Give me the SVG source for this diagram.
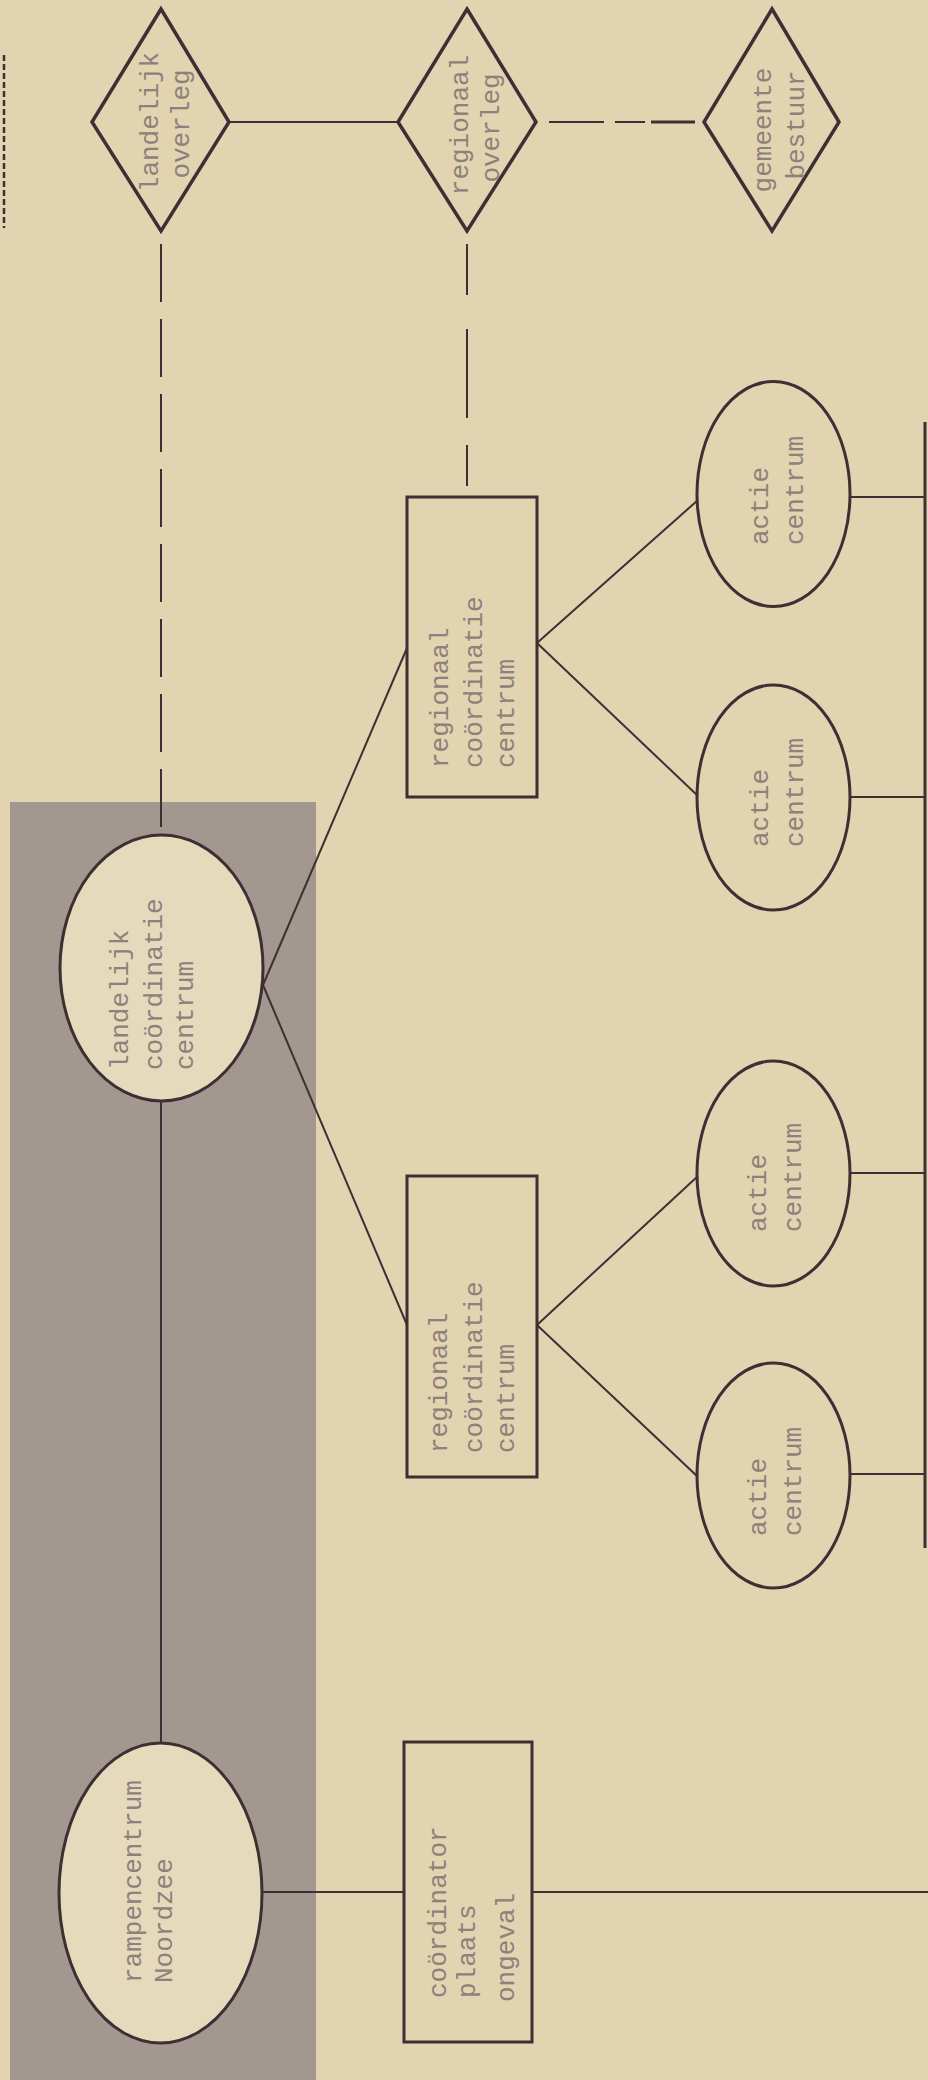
<svg xmlns="http://www.w3.org/2000/svg" width="928" height="2080" viewBox="0 0 928 2080">
<style>
.n{fill:#e6dabd;stroke:#3d3034;stroke-width:3}
.c{stroke:#3d3034;stroke-width:2;fill:none}
.d{stroke-dasharray:58 17}
.t{font-family:"Liberation Mono","DejaVu Sans Mono",monospace;font-size:26px;fill:#8c817b}
.m{text-anchor:middle}
</style>
<rect x="0" y="0" width="928" height="2080" fill="#e2d3b1"/>
<rect id="shade" x="10" y="802" width="306" height="1278" fill="#a2988f"/>

<g id="connectors">
  <line class="c" x1="4" y1="55" x2="4" y2="228" style="stroke-dasharray:6 3;stroke-width:2.5"/>
  <line class="c" x1="229" y1="122" x2="398" y2="122"/>
  <line class="c" x1="549" y1="122" x2="604" y2="122"/>
  <line class="c" x1="615" y1="122" x2="645" y2="122"/>
  <line class="c" x1="651" y1="122" x2="695" y2="122" style="stroke-width:3"/>
  <line class="c d" x1="161" y1="244" x2="161" y2="835"/>
  <line class="c" x1="467" y1="244" x2="467" y2="295"/>
  <line class="c" x1="467" y1="329" x2="467" y2="418"/>
  <line class="c" x1="467" y1="445" x2="467" y2="486"/>
  <line class="c" x1="263" y1="985" x2="407" y2="648"/>
  <line class="c" x1="263" y1="985" x2="407" y2="1325"/>
  <line class="c" x1="537" y1="643" x2="698" y2="500"/>
  <line class="c" x1="537" y1="643" x2="698" y2="796"/>
  <line class="c" x1="537" y1="1325" x2="698" y2="1176"/>
  <line class="c" x1="537" y1="1325" x2="698" y2="1477"/>
  <line class="c" x1="850" y1="497" x2="925" y2="497"/>
  <line class="c" x1="850" y1="797" x2="925" y2="797"/>
  <line class="c" x1="850" y1="1173" x2="925" y2="1173"/>
  <line class="c" x1="850" y1="1474" x2="925" y2="1474"/>
  <line class="c" x1="925" y1="422" x2="925" y2="1548" style="stroke-width:3"/>
  <line class="c" x1="161" y1="1100" x2="161" y2="1743"/>
  <line class="c" x1="262" y1="1892" x2="404" y2="1892"/>
  <line class="c" x1="532" y1="1892" x2="928" y2="1892"/>
</g>

<g id="landelijk-overleg">
  <polygon class="n" points="161,9 229,122 161,231 92,122" style="fill:none;stroke-width:3.5"/>
  <text class="t m" transform="translate(158,122) rotate(-90)">landelijk</text>
  <text class="t m" transform="translate(189,124) rotate(-90)">overleg</text>
</g>
<g id="regionaal-overleg">
  <polygon class="n" points="467,9 536,122 467,231 398,122" style="fill:none;stroke-width:3.5"/>
  <text class="t m" transform="translate(468,125) rotate(-90)">regionaal</text>
  <text class="t m" transform="translate(499,128) rotate(-90)">overleg</text>
</g>
<g id="gemeente-bestuur">
  <polygon class="n" points="772,9 839,122 772,231 704,122" style="fill:none;stroke-width:3.5"/>
  <text class="t m" transform="translate(771,130) rotate(-90)">gemeente</text>
  <text class="t m" transform="translate(804,125) rotate(-90)">bestuur</text>
</g>

<g id="landelijk-coordinatie-centrum">
  <ellipse class="n" cx="161.5" cy="968" rx="101.5" ry="133"/>
  <text class="t" transform="translate(128,1070) rotate(-90)">landelijk</text>
  <text class="t" transform="translate(162,1070) rotate(-90)">coördinatie</text>
  <text class="t" transform="translate(193,1070) rotate(-90)">centrum</text>
</g>

<g id="regionaal-coordinatie-centrum-1">
  <rect class="n" x="407" y="497" width="130" height="300" style="fill:none"/>
  <text class="t" transform="translate(448,768) rotate(-90)">regionaal</text>
  <text class="t" transform="translate(482,768) rotate(-90)">coördinatie</text>
  <text class="t" transform="translate(514,768) rotate(-90)">centrum</text>
</g>
<g id="regionaal-coordinatie-centrum-2">
  <rect class="n" x="407" y="1176" width="130" height="301" style="fill:none"/>
  <text class="t" transform="translate(447,1453) rotate(-90)">regionaal</text>
  <text class="t" transform="translate(482,1453) rotate(-90)">coördinatie</text>
  <text class="t" transform="translate(514,1453) rotate(-90)">centrum</text>
</g>

<g id="actie-centrum-1">
  <ellipse class="n" cx="773.5" cy="494" rx="76.5" ry="112.5" style="fill:none"/>
  <text class="t" transform="translate(768,545) rotate(-90)">actie</text>
  <text class="t" transform="translate(803,545) rotate(-90)">centrum</text>
</g>
<g id="actie-centrum-2">
  <ellipse class="n" cx="773.5" cy="797.5" rx="76.5" ry="112.5" style="fill:none"/>
  <text class="t" transform="translate(768,847) rotate(-90)">actie</text>
  <text class="t" transform="translate(803,847) rotate(-90)">centrum</text>
</g>
<g id="actie-centrum-3">
  <ellipse class="n" cx="773.5" cy="1173.5" rx="76.5" ry="112.5" style="fill:none"/>
  <text class="t" transform="translate(766,1232) rotate(-90)">actie</text>
  <text class="t" transform="translate(801,1232) rotate(-90)">centrum</text>
</g>
<g id="actie-centrum-4">
  <ellipse class="n" cx="773.5" cy="1475.5" rx="76.5" ry="112.5" style="fill:none"/>
  <text class="t" transform="translate(766,1536) rotate(-90)">actie</text>
  <text class="t" transform="translate(801,1536) rotate(-90)">centrum</text>
</g>

<g id="rampencentrum-noordzee">
  <ellipse class="n" cx="160.5" cy="1893" rx="101.5" ry="150"/>
  <text class="t" transform="translate(141,1983) rotate(-90)">rampencentrum</text>
  <text class="t" transform="translate(172,1983) rotate(-90)">Noordzee</text>
</g>

<g id="coordinator-plaats-ongeval">
  <rect class="n" x="404" y="1742" width="128" height="300" style="fill:none"/>
  <text class="t" transform="translate(446,1998) rotate(-90)">coördinator</text>
  <text class="t" transform="translate(475,1998) rotate(-90)">plaats</text>
  <text class="t" transform="translate(514,2002) rotate(-90)">ongeval</text>
</g>
</svg>
